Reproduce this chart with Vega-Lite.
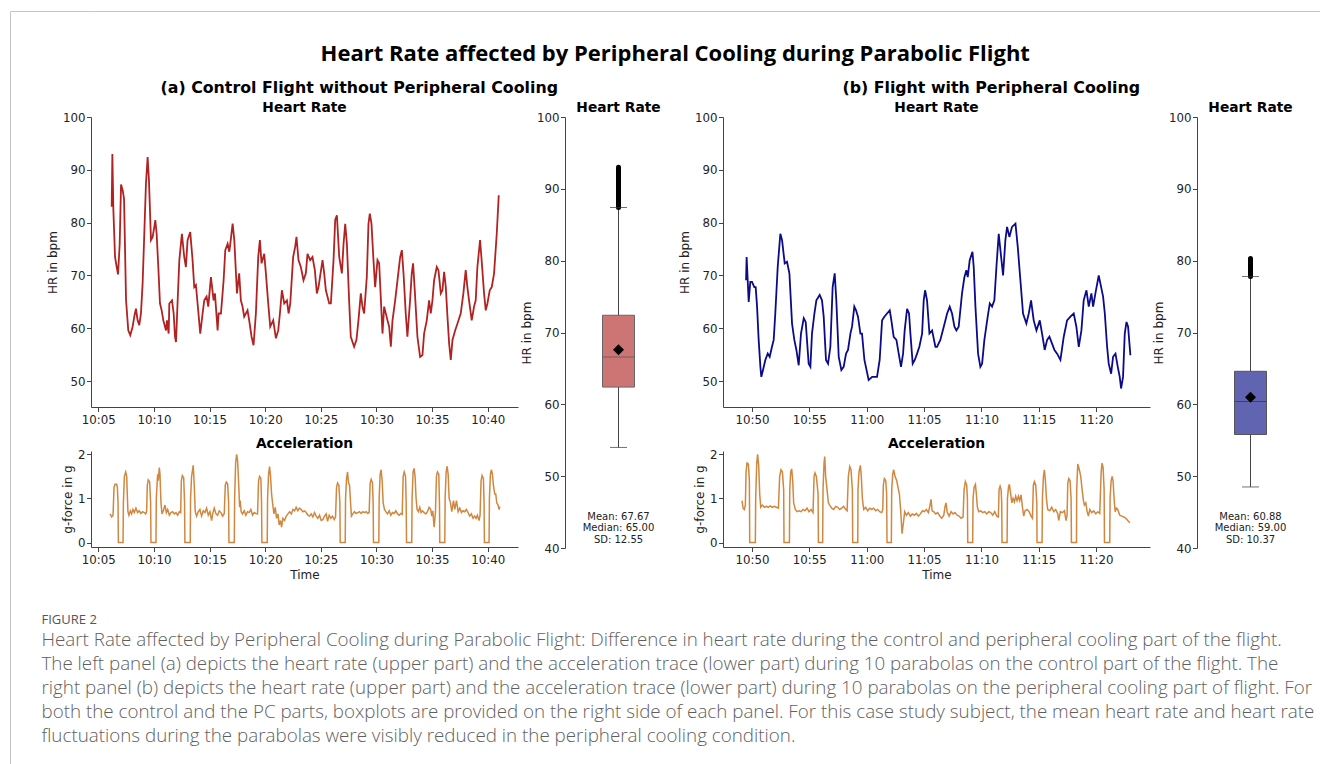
{
  "$schema": "https://vega.github.io/schema/vega-lite/v6.json",
  "background": "white",
  "padding": {"left": 10, "top": 11, "right": 0, "bottom": 0},
  "config": {
    "view": {"stroke": null},
    "font": "DejaVu Sans",
    "axis": {"labelFont": "DejaVu Sans", "labelFontSize": 11.8, "labelColor": "#222", "titleFont": "DejaVu Sans", "titleFontSize": 12, "titleFontWeight": "normal", "titleColor": "#222", "domainColor": "#444", "tickColor": "#444", "tickSize": 4.5, "labelPadding": 1.5, "titlePadding": 3, "grid": false, "labelFlush": false, "labelOverlap": false},
    "axisX": {"labelPadding": 2.5, "titlePadding": 4},
    "title": {"font": "DejaVu Sans", "fontWeight": "bold", "color": "#000"}
  },
  "datasets": {
    "hrA": [
      {"t":606.20,"v":83.0},{"t":606.26,"v":93.0},{"t":606.35,"v":82.5},{"t":606.50,"v":73.5},{"t":606.65,"v":71.6},{"t":606.77,"v":70.2},{"t":606.92,"v":76.0},{"t":607.04,"v":87.2},{"t":607.19,"v":86.1},{"t":607.31,"v":84.5},{"t":607.49,"v":65.3},{"t":607.69,"v":59.6},{"t":607.87,"v":58.7},{"t":608.08,"v":60.3},{"t":608.23,"v":62.2},{"t":608.38,"v":63.7},{"t":608.53,"v":61.5},{"t":608.68,"v":60.6},{"t":608.83,"v":62.8},{"t":608.98,"v":68.5},{"t":609.13,"v":77.9},{"t":609.28,"v":87.4},{"t":609.43,"v":92.4},{"t":609.55,"v":88.0},{"t":609.73,"v":76.7},{"t":609.88,"v":77.3},{"t":610.03,"v":79.2},{"t":610.12,"v":80.5},{"t":610.24,"v":77.9},{"t":610.39,"v":71.6},{"t":610.54,"v":64.7},{"t":610.69,"v":63.4},{"t":610.84,"v":61.5},{"t":611.08,"v":59.6},{"t":611.17,"v":61.5},{"t":611.32,"v":59.0},{"t":611.38,"v":64.7},{"t":611.62,"v":65.3},{"t":611.77,"v":62.8},{"t":611.89,"v":58.4},{"t":611.98,"v":57.4},{"t":612.13,"v":65.3},{"t":612.28,"v":72.9},{"t":612.51,"v":77.9},{"t":612.72,"v":73.5},{"t":612.87,"v":71.6},{"t":613.02,"v":76.7},{"t":613.26,"v":78.2},{"t":613.47,"v":72.9},{"t":613.62,"v":67.8},{"t":613.77,"v":68.2},{"t":613.92,"v":64.7},{"t":614.16,"v":59.0},{"t":614.37,"v":62.8},{"t":614.52,"v":65.3},{"t":614.73,"v":66.0},{"t":614.88,"v":64.1},{"t":615.12,"v":69.7},{"t":615.36,"v":65.3},{"t":615.48,"v":66.6},{"t":615.72,"v":59.6},{"t":615.81,"v":62.8},{"t":616.02,"v":62.8},{"t":616.26,"v":69.1},{"t":616.41,"v":74.8},{"t":616.62,"v":76.0},{"t":616.77,"v":74.5},{"t":616.86,"v":76.0},{"t":617.07,"v":79.8},{"t":617.22,"v":76.7},{"t":617.46,"v":66.6},{"t":617.66,"v":70.4},{"t":617.81,"v":65.3},{"t":617.96,"v":64.1},{"t":618.11,"v":62.2},{"t":618.41,"v":63.4},{"t":618.56,"v":61.5},{"t":618.77,"v":58.4},{"t":618.95,"v":56.8},{"t":619.16,"v":62.8},{"t":619.37,"v":73.5},{"t":619.52,"v":76.7},{"t":619.67,"v":72.3},{"t":619.91,"v":74.1},{"t":620.06,"v":70.4},{"t":620.27,"v":64.7},{"t":620.45,"v":60.3},{"t":620.72,"v":61.5},{"t":620.96,"v":58.1},{"t":621.17,"v":59.6},{"t":621.32,"v":62.8},{"t":621.50,"v":67.2},{"t":621.71,"v":64.7},{"t":621.95,"v":65.3},{"t":622.10,"v":62.8},{"t":622.25,"v":64.7},{"t":622.51,"v":73.5},{"t":622.69,"v":75.4},{"t":622.81,"v":77.3},{"t":622.99,"v":72.9},{"t":623.20,"v":71.6},{"t":623.44,"v":69.1},{"t":623.65,"v":70.4},{"t":623.80,"v":74.1},{"t":624.04,"v":72.9},{"t":624.25,"v":73.5},{"t":624.46,"v":71.0},{"t":624.64,"v":66.6},{"t":624.79,"v":67.8},{"t":625.15,"v":72.9},{"t":625.30,"v":70.4},{"t":625.45,"v":67.2},{"t":625.75,"v":64.7},{"t":625.90,"v":64.7},{"t":626.14,"v":72.9},{"t":626.29,"v":80.5},{"t":626.44,"v":81.4},{"t":626.65,"v":73.5},{"t":626.89,"v":70.4},{"t":627.04,"v":76.0},{"t":627.19,"v":79.8},{"t":627.34,"v":76.0},{"t":627.54,"v":65.3},{"t":627.69,"v":58.4},{"t":627.99,"v":56.5},{"t":628.20,"v":57.8},{"t":628.38,"v":61.5},{"t":628.59,"v":66.6},{"t":628.74,"v":64.1},{"t":628.89,"v":62.8},{"t":629.13,"v":69.7},{"t":629.28,"v":79.8},{"t":629.40,"v":81.7},{"t":629.55,"v":79.8},{"t":629.73,"v":72.9},{"t":629.88,"v":67.8},{"t":630.09,"v":72.9},{"t":630.24,"v":72.3},{"t":630.54,"v":59.0},{"t":630.69,"v":64.1},{"t":630.99,"v":61.5},{"t":631.14,"v":60.3},{"t":631.29,"v":56.5},{"t":631.44,"v":61.5},{"t":631.68,"v":65.3},{"t":631.89,"v":69.1},{"t":632.13,"v":73.5},{"t":632.28,"v":74.8},{"t":632.43,"v":70.4},{"t":632.63,"v":62.8},{"t":632.78,"v":58.4},{"t":633.02,"v":65.3},{"t":633.17,"v":70.4},{"t":633.29,"v":72.3},{"t":633.44,"v":67.2},{"t":633.68,"v":58.4},{"t":633.92,"v":54.6},{"t":634.13,"v":54.9},{"t":634.28,"v":59.0},{"t":634.52,"v":61.5},{"t":634.73,"v":65.3},{"t":634.88,"v":62.8},{"t":635.03,"v":65.3},{"t":635.18,"v":69.1},{"t":635.42,"v":71.6},{"t":635.57,"v":71.0},{"t":635.78,"v":66.6},{"t":635.93,"v":67.2},{"t":636.08,"v":70.7},{"t":636.23,"v":67.8},{"t":636.38,"v":62.2},{"t":636.53,"v":57.1},{"t":636.68,"v":54.0},{"t":636.83,"v":57.8},{"t":637.07,"v":59.6},{"t":637.28,"v":60.9},{"t":637.57,"v":62.8},{"t":637.81,"v":66.6},{"t":638.02,"v":71.0},{"t":638.17,"v":67.8},{"t":638.32,"v":65.3},{"t":638.56,"v":61.5},{"t":638.77,"v":64.1},{"t":638.92,"v":65.3},{"t":639.07,"v":71.6},{"t":639.31,"v":76.7},{"t":639.43,"v":73.5},{"t":639.67,"v":66.6},{"t":639.82,"v":63.4},{"t":639.97,"v":64.7},{"t":640.18,"v":67.2},{"t":640.36,"v":67.8},{"t":640.57,"v":70.4},{"t":640.81,"v":77.9},{"t":640.99,"v":85.2}
    ],
    "accA": [
      {"t":606.05,"v":0.65},{"t":606.20,"v":0.58},{"t":606.32,"v":0.62},{"t":606.41,"v":1.25},{"t":606.50,"v":1.32},{"t":606.65,"v":1.32},{"t":606.71,"v":1.25},{"t":606.77,"v":0.9},{"t":606.80,"v":0},{"t":607.22,"v":0},{"t":607.25,"v":0.9},{"t":607.34,"v":1.5},{"t":607.46,"v":1.6},{"t":607.55,"v":1.5},{"t":607.60,"v":1.1},{"t":607.66,"v":0.7},{"t":607.75,"v":0.62},{"t":607.87,"v":0.72},{"t":607.99,"v":0.65},{"t":608.11,"v":0.75},{"t":608.23,"v":0.68},{"t":608.38,"v":0.78},{"t":608.53,"v":0.68},{"t":608.68,"v":0.72},{"t":608.83,"v":0.66},{"t":608.98,"v":0.7},{"t":609.13,"v":0.68},{"t":609.25,"v":0.65},{"t":609.34,"v":0.7},{"t":609.40,"v":1.3},{"t":609.49,"v":1.42},{"t":609.61,"v":1.38},{"t":609.70,"v":0.9},{"t":609.73,"v":0},{"t":610.18,"v":0},{"t":610.21,"v":1.0},{"t":610.33,"v":1.55},{"t":610.39,"v":1.4},{"t":610.48,"v":1.7},{"t":610.54,"v":1.55},{"t":610.63,"v":0.9},{"t":610.72,"v":0.65},{"t":610.84,"v":0.72},{"t":610.99,"v":0.85},{"t":611.11,"v":0.68},{"t":611.23,"v":0.75},{"t":611.38,"v":0.62},{"t":611.53,"v":0.68},{"t":611.68,"v":0.7},{"t":611.83,"v":0.65},{"t":611.98,"v":0.68},{"t":612.13,"v":0.62},{"t":612.28,"v":0.7},{"t":612.40,"v":0.68},{"t":612.46,"v":1.4},{"t":612.55,"v":1.52},{"t":612.67,"v":1.47},{"t":612.75,"v":0.9},{"t":612.78,"v":0},{"t":613.26,"v":0},{"t":613.29,"v":1.0},{"t":613.38,"v":1.5},{"t":613.47,"v":1.65},{"t":613.53,"v":1.75},{"t":613.62,"v":1.3},{"t":613.71,"v":0.7},{"t":613.83,"v":0.6},{"t":613.98,"v":0.7},{"t":614.13,"v":0.75},{"t":614.28,"v":0.6},{"t":614.43,"v":0.72},{"t":614.58,"v":0.68},{"t":614.73,"v":0.78},{"t":614.88,"v":0.62},{"t":615.03,"v":0.7},{"t":615.18,"v":0.5},{"t":615.30,"v":0.68},{"t":615.42,"v":0.78},{"t":615.57,"v":0.65},{"t":615.72,"v":0.62},{"t":615.87,"v":0.72},{"t":616.02,"v":0.68},{"t":616.17,"v":0.6},{"t":616.32,"v":0.66},{"t":616.41,"v":1.3},{"t":616.50,"v":1.37},{"t":616.62,"v":1.33},{"t":616.71,"v":0.9},{"t":616.74,"v":0},{"t":617.22,"v":0},{"t":617.25,"v":1.0},{"t":617.34,"v":1.8},{"t":617.43,"v":2.0},{"t":617.52,"v":1.85},{"t":617.61,"v":1.35},{"t":617.70,"v":0.8},{"t":617.75,"v":0.95},{"t":617.84,"v":0.7},{"t":617.96,"v":0.65},{"t":618.11,"v":0.72},{"t":618.26,"v":0.62},{"t":618.41,"v":0.7},{"t":618.56,"v":0.68},{"t":618.71,"v":0.75},{"t":618.86,"v":0.62},{"t":619.01,"v":0.68},{"t":619.16,"v":0.66},{"t":619.31,"v":0.65},{"t":619.40,"v":1.4},{"t":619.49,"v":1.5},{"t":619.61,"v":1.45},{"t":619.67,"v":0.9},{"t":619.70,"v":0},{"t":620.18,"v":0},{"t":620.21,"v":1.0},{"t":620.30,"v":1.55},{"t":620.39,"v":1.72},{"t":620.48,"v":1.5},{"t":620.57,"v":1.1},{"t":620.66,"v":0.9},{"t":620.78,"v":0.65},{"t":620.90,"v":0.8},{"t":621.02,"v":0.55},{"t":621.14,"v":0.65},{"t":621.26,"v":0.4},{"t":621.38,"v":0.5},{"t":621.47,"v":0.35},{"t":621.59,"v":0.55},{"t":621.74,"v":0.5},{"t":621.89,"v":0.6},{"t":622.04,"v":0.65},{"t":622.19,"v":0.7},{"t":622.34,"v":0.65},{"t":622.49,"v":0.75},{"t":622.64,"v":0.72},{"t":622.78,"v":0.8},{"t":622.93,"v":0.72},{"t":623.08,"v":0.78},{"t":623.23,"v":0.75},{"t":623.38,"v":0.7},{"t":623.53,"v":0.72},{"t":623.68,"v":0.68},{"t":623.83,"v":0.62},{"t":623.98,"v":0.6},{"t":624.13,"v":0.65},{"t":624.28,"v":0.58},{"t":624.43,"v":0.68},{"t":624.58,"v":0.6},{"t":624.73,"v":0.55},{"t":624.88,"v":0.62},{"t":625.03,"v":0.5},{"t":625.18,"v":0.52},{"t":625.33,"v":0.6},{"t":625.48,"v":0.65},{"t":625.60,"v":0.48},{"t":625.75,"v":0.62},{"t":625.90,"v":0.55},{"t":626.05,"v":0.6},{"t":626.20,"v":0.52},{"t":626.32,"v":0.58},{"t":626.41,"v":1.25},{"t":626.50,"v":1.35},{"t":626.62,"v":1.3},{"t":626.71,"v":0.9},{"t":626.74,"v":0},{"t":627.19,"v":0},{"t":627.22,"v":1.0},{"t":627.31,"v":1.45},{"t":627.40,"v":1.6},{"t":627.49,"v":1.35},{"t":627.58,"v":1.3},{"t":627.67,"v":0.9},{"t":627.75,"v":0.6},{"t":627.87,"v":0.65},{"t":628.02,"v":0.7},{"t":628.17,"v":0.66},{"t":628.32,"v":0.68},{"t":628.47,"v":0.7},{"t":628.62,"v":0.66},{"t":628.77,"v":0.7},{"t":628.92,"v":0.68},{"t":629.07,"v":0.7},{"t":629.22,"v":0.66},{"t":629.34,"v":0.68},{"t":629.43,"v":1.35},{"t":629.52,"v":1.43},{"t":629.64,"v":1.35},{"t":629.70,"v":0.9},{"t":629.73,"v":0},{"t":630.21,"v":0},{"t":630.24,"v":1.0},{"t":630.33,"v":1.55},{"t":630.42,"v":1.65},{"t":630.51,"v":1.4},{"t":630.60,"v":0.9},{"t":630.72,"v":0.75},{"t":630.84,"v":0.7},{"t":630.99,"v":0.65},{"t":631.14,"v":0.72},{"t":631.29,"v":0.62},{"t":631.44,"v":0.68},{"t":631.59,"v":0.66},{"t":631.74,"v":0.72},{"t":631.89,"v":0.65},{"t":632.04,"v":0.62},{"t":632.19,"v":0.66},{"t":632.31,"v":0.64},{"t":632.40,"v":1.5},{"t":632.49,"v":1.6},{"t":632.61,"v":1.5},{"t":632.67,"v":0.9},{"t":632.70,"v":0},{"t":633.17,"v":0},{"t":633.20,"v":1.0},{"t":633.29,"v":1.6},{"t":633.38,"v":1.68},{"t":633.47,"v":1.5},{"t":633.56,"v":1.0},{"t":633.65,"v":0.75},{"t":633.77,"v":0.7},{"t":633.89,"v":0.8},{"t":634.01,"v":0.68},{"t":634.13,"v":0.72},{"t":634.28,"v":0.68},{"t":634.43,"v":0.65},{"t":634.58,"v":0.7},{"t":634.73,"v":0.8},{"t":634.88,"v":0.75},{"t":634.97,"v":0.6},{"t":635.06,"v":0.72},{"t":635.18,"v":0.35},{"t":635.30,"v":0.68},{"t":635.39,"v":1.5},{"t":635.48,"v":1.6},{"t":635.60,"v":1.55},{"t":635.66,"v":0.9},{"t":635.69,"v":0},{"t":636.14,"v":0},{"t":636.17,"v":1.0},{"t":636.26,"v":1.6},{"t":636.35,"v":1.73},{"t":636.44,"v":1.55},{"t":636.53,"v":1.0},{"t":636.65,"v":0.9},{"t":636.77,"v":0.7},{"t":636.92,"v":0.95},{"t":637.04,"v":0.75},{"t":637.19,"v":0.95},{"t":637.34,"v":0.7},{"t":637.49,"v":0.78},{"t":637.64,"v":0.68},{"t":637.78,"v":0.72},{"t":637.93,"v":0.7},{"t":638.08,"v":0.75},{"t":638.23,"v":0.68},{"t":638.38,"v":0.6},{"t":638.53,"v":0.65},{"t":638.68,"v":0.55},{"t":638.83,"v":0.6},{"t":638.95,"v":0.55},{"t":639.07,"v":0.62},{"t":639.22,"v":0.5},{"t":639.31,"v":0.62},{"t":639.40,"v":1.4},{"t":639.49,"v":1.52},{"t":639.61,"v":1.45},{"t":639.67,"v":0.9},{"t":639.70,"v":0},{"t":640.12,"v":0},{"t":640.15,"v":1.0},{"t":640.24,"v":1.55},{"t":640.33,"v":1.65},{"t":640.42,"v":1.55},{"t":640.51,"v":1.3},{"t":640.63,"v":1.1},{"t":640.72,"v":1.1},{"t":640.81,"v":0.9},{"t":640.93,"v":0.85},{"t":641.02,"v":0.75},{"t":641.08,"v":0.82}
    ],
    "hrB": [
      {"t":649.48,"v":69.1},{"t":649.53,"v":73.5},{"t":649.71,"v":65.0},{"t":649.85,"v":68.8},{"t":650.00,"v":68.8},{"t":650.20,"v":67.8},{"t":650.32,"v":67.8},{"t":650.44,"v":64.1},{"t":650.58,"v":57.8},{"t":650.73,"v":52.7},{"t":650.81,"v":50.8},{"t":650.96,"v":52.1},{"t":651.16,"v":54.0},{"t":651.37,"v":55.2},{"t":651.54,"v":54.6},{"t":651.74,"v":56.5},{"t":651.89,"v":57.8},{"t":652.03,"v":62.8},{"t":652.24,"v":71.6},{"t":652.47,"v":77.9},{"t":652.62,"v":76.7},{"t":652.85,"v":72.3},{"t":653.05,"v":72.6},{"t":653.26,"v":70.4},{"t":653.49,"v":60.9},{"t":653.69,"v":57.8},{"t":653.87,"v":55.9},{"t":654.07,"v":53.0},{"t":654.27,"v":59.0},{"t":654.51,"v":61.9},{"t":654.68,"v":61.2},{"t":654.94,"v":53.3},{"t":655.09,"v":52.7},{"t":655.23,"v":59.0},{"t":655.44,"v":62.8},{"t":655.61,"v":65.3},{"t":655.90,"v":66.3},{"t":656.10,"v":65.3},{"t":656.25,"v":62.2},{"t":656.45,"v":54.0},{"t":656.63,"v":53.3},{"t":656.83,"v":56.5},{"t":657.03,"v":67.8},{"t":657.21,"v":70.4},{"t":657.35,"v":65.3},{"t":657.56,"v":54.6},{"t":657.79,"v":52.1},{"t":657.99,"v":52.7},{"t":658.20,"v":55.2},{"t":658.37,"v":55.9},{"t":658.58,"v":59.0},{"t":658.72,"v":60.3},{"t":658.92,"v":64.1},{"t":659.07,"v":63.4},{"t":659.24,"v":62.2},{"t":659.45,"v":59.0},{"t":659.59,"v":59.0},{"t":659.80,"v":54.0},{"t":660.17,"v":50.2},{"t":660.47,"v":50.8},{"t":660.90,"v":50.8},{"t":661.13,"v":54.0},{"t":661.34,"v":61.5},{"t":661.54,"v":62.2},{"t":661.77,"v":62.8},{"t":662.01,"v":63.4},{"t":662.15,"v":61.5},{"t":662.35,"v":58.4},{"t":662.59,"v":57.8},{"t":662.79,"v":55.2},{"t":662.99,"v":52.7},{"t":663.17,"v":55.2},{"t":663.31,"v":59.6},{"t":663.52,"v":63.7},{"t":663.69,"v":62.8},{"t":663.81,"v":59.0},{"t":664.01,"v":53.3},{"t":664.19,"v":54.0},{"t":664.39,"v":55.2},{"t":664.59,"v":56.5},{"t":664.83,"v":59.0},{"t":664.97,"v":65.3},{"t":665.09,"v":67.2},{"t":665.26,"v":65.3},{"t":665.47,"v":59.0},{"t":665.70,"v":59.6},{"t":665.99,"v":56.5},{"t":666.13,"v":56.5},{"t":666.42,"v":57.8},{"t":666.72,"v":60.3},{"t":667.01,"v":62.8},{"t":667.24,"v":64.1},{"t":667.44,"v":62.8},{"t":667.65,"v":60.3},{"t":667.82,"v":59.6},{"t":668.02,"v":60.3},{"t":668.31,"v":66.6},{"t":668.52,"v":69.7},{"t":668.69,"v":71.0},{"t":668.81,"v":69.7},{"t":668.98,"v":72.9},{"t":669.22,"v":74.5},{"t":669.33,"v":71.6},{"t":669.48,"v":64.1},{"t":669.71,"v":55.2},{"t":669.91,"v":52.7},{"t":670.06,"v":53.3},{"t":670.26,"v":57.8},{"t":670.55,"v":62.2},{"t":670.73,"v":64.7},{"t":670.93,"v":64.1},{"t":671.13,"v":65.3},{"t":671.31,"v":71.6},{"t":671.51,"v":77.9},{"t":671.72,"v":73.5},{"t":671.89,"v":70.0},{"t":672.09,"v":76.7},{"t":672.24,"v":79.2},{"t":672.44,"v":77.3},{"t":672.67,"v":79.2},{"t":672.97,"v":79.8},{"t":673.17,"v":75.4},{"t":673.40,"v":69.1},{"t":673.63,"v":62.8},{"t":673.92,"v":60.9},{"t":674.13,"v":62.8},{"t":674.33,"v":65.3},{"t":674.56,"v":61.5},{"t":674.80,"v":59.6},{"t":675.09,"v":61.5},{"t":675.29,"v":59.0},{"t":675.52,"v":55.9},{"t":675.73,"v":57.8},{"t":675.93,"v":58.4},{"t":676.16,"v":57.1},{"t":676.37,"v":55.9},{"t":676.60,"v":55.2},{"t":676.89,"v":54.0},{"t":677.18,"v":58.4},{"t":677.47,"v":61.5},{"t":677.76,"v":62.2},{"t":678.05,"v":62.8},{"t":678.28,"v":60.3},{"t":678.49,"v":56.5},{"t":678.72,"v":59.6},{"t":678.92,"v":65.3},{"t":679.16,"v":67.2},{"t":679.36,"v":64.1},{"t":679.59,"v":66.6},{"t":679.74,"v":64.1},{"t":679.94,"v":66.6},{"t":680.23,"v":70.0},{"t":680.44,"v":67.8},{"t":680.61,"v":66.0},{"t":680.76,"v":62.8},{"t":680.96,"v":56.5},{"t":681.10,"v":53.3},{"t":681.31,"v":51.4},{"t":681.48,"v":54.6},{"t":681.69,"v":55.2},{"t":681.89,"v":52.7},{"t":682.06,"v":50.8},{"t":682.18,"v":48.6},{"t":682.35,"v":50.8},{"t":682.50,"v":59.0},{"t":682.65,"v":61.2},{"t":682.79,"v":60.3},{"t":682.99,"v":54.9}
    ],
    "accB": [
      {"t":649.13,"v":0.95},{"t":649.22,"v":0.78},{"t":649.33,"v":0.75},{"t":649.42,"v":0.85},{"t":649.48,"v":1.6},{"t":649.56,"v":1.8},{"t":649.68,"v":1.78},{"t":649.77,"v":1.4},{"t":649.80,"v":0},{"t":650.29,"v":0},{"t":650.32,"v":1.0},{"t":650.41,"v":1.8},{"t":650.49,"v":2.0},{"t":650.58,"v":1.75},{"t":650.67,"v":1.1},{"t":650.76,"v":0.8},{"t":650.90,"v":0.85},{"t":651.08,"v":0.8},{"t":651.25,"v":0.82},{"t":651.42,"v":0.8},{"t":651.60,"v":0.83},{"t":651.77,"v":0.8},{"t":651.95,"v":0.82},{"t":652.12,"v":0.8},{"t":652.30,"v":0.78},{"t":652.41,"v":1.5},{"t":652.53,"v":1.65},{"t":652.65,"v":1.6},{"t":652.76,"v":1.2},{"t":652.79,"v":0},{"t":653.26,"v":0},{"t":653.29,"v":1.2},{"t":653.37,"v":1.6},{"t":653.46,"v":1.67},{"t":653.55,"v":1.4},{"t":653.63,"v":0.9},{"t":653.78,"v":0.75},{"t":653.92,"v":0.7},{"t":654.10,"v":0.72},{"t":654.27,"v":0.7},{"t":654.45,"v":0.75},{"t":654.62,"v":0.72},{"t":654.80,"v":0.78},{"t":654.97,"v":0.7},{"t":655.15,"v":0.75},{"t":655.32,"v":0.68},{"t":655.41,"v":1.5},{"t":655.49,"v":1.58},{"t":655.61,"v":1.5},{"t":655.76,"v":1.1},{"t":655.79,"v":0},{"t":656.16,"v":0},{"t":656.19,"v":1.2},{"t":656.28,"v":1.8},{"t":656.34,"v":1.95},{"t":656.42,"v":1.5},{"t":656.54,"v":1.2},{"t":656.66,"v":0.9},{"t":656.77,"v":0.85},{"t":656.95,"v":0.78},{"t":657.12,"v":0.75},{"t":657.30,"v":0.82},{"t":657.47,"v":0.8},{"t":657.65,"v":0.75},{"t":657.82,"v":0.78},{"t":657.99,"v":0.82},{"t":658.17,"v":0.75},{"t":658.29,"v":0.72},{"t":658.40,"v":1.5},{"t":658.52,"v":1.72},{"t":658.63,"v":1.65},{"t":658.75,"v":1.2},{"t":658.78,"v":0},{"t":659.22,"v":0},{"t":659.24,"v":1.2},{"t":659.33,"v":1.6},{"t":659.45,"v":1.75},{"t":659.53,"v":1.5},{"t":659.62,"v":1.0},{"t":659.74,"v":0.75},{"t":659.91,"v":0.8},{"t":660.09,"v":0.72},{"t":660.26,"v":0.78},{"t":660.44,"v":0.75},{"t":660.61,"v":0.78},{"t":660.78,"v":0.72},{"t":660.96,"v":0.75},{"t":661.13,"v":0.7},{"t":661.31,"v":0.68},{"t":661.40,"v":0.75},{"t":661.45,"v":1.3},{"t":661.54,"v":1.45},{"t":661.66,"v":1.4},{"t":661.74,"v":1.1},{"t":661.77,"v":0},{"t":662.15,"v":0},{"t":662.18,"v":1.2},{"t":662.27,"v":1.55},{"t":662.35,"v":1.65},{"t":662.47,"v":1.5},{"t":662.62,"v":1.4},{"t":662.73,"v":1.25},{"t":662.85,"v":1.1},{"t":662.97,"v":0.7},{"t":663.08,"v":0.2},{"t":663.20,"v":0.45},{"t":663.31,"v":0.7},{"t":663.46,"v":0.62},{"t":663.63,"v":0.68},{"t":663.81,"v":0.6},{"t":663.98,"v":0.65},{"t":664.16,"v":0.62},{"t":664.33,"v":0.66},{"t":664.51,"v":0.6},{"t":664.68,"v":0.65},{"t":664.86,"v":0.72},{"t":665.03,"v":0.7},{"t":665.20,"v":0.75},{"t":665.38,"v":0.68},{"t":665.52,"v":0.85},{"t":665.61,"v":0.98},{"t":665.70,"v":0.72},{"t":665.84,"v":0.7},{"t":666.02,"v":0.65},{"t":666.19,"v":0.68},{"t":666.37,"v":0.6},{"t":666.54,"v":0.55},{"t":666.72,"v":0.62},{"t":666.83,"v":0.82},{"t":666.92,"v":0.9},{"t":667.01,"v":0.7},{"t":667.18,"v":0.6},{"t":667.36,"v":0.7},{"t":667.53,"v":0.65},{"t":667.70,"v":0.68},{"t":667.88,"v":0.62},{"t":668.05,"v":0.6},{"t":668.23,"v":0.55},{"t":668.40,"v":0.58},{"t":668.49,"v":1.2},{"t":668.60,"v":1.38},{"t":668.72,"v":1.3},{"t":668.78,"v":1.0},{"t":668.81,"v":0},{"t":669.24,"v":0},{"t":669.27,"v":1.0},{"t":669.36,"v":1.25},{"t":669.48,"v":1.32},{"t":669.56,"v":1.1},{"t":669.65,"v":0.8},{"t":669.77,"v":0.7},{"t":669.94,"v":0.72},{"t":670.12,"v":0.68},{"t":670.29,"v":0.7},{"t":670.47,"v":0.65},{"t":670.64,"v":0.7},{"t":670.81,"v":0.68},{"t":670.99,"v":0.62},{"t":671.16,"v":0.7},{"t":671.34,"v":0.6},{"t":671.48,"v":0.58},{"t":671.54,"v":1.2},{"t":671.63,"v":1.28},{"t":671.72,"v":1.2},{"t":671.77,"v":0.9},{"t":671.80,"v":0},{"t":672.24,"v":0},{"t":672.27,"v":1.0},{"t":672.36,"v":1.25},{"t":672.44,"v":1.32},{"t":672.53,"v":1.15},{"t":672.65,"v":0.9},{"t":672.76,"v":1.0},{"t":672.88,"v":0.92},{"t":672.99,"v":1.05},{"t":673.11,"v":0.95},{"t":673.23,"v":1.05},{"t":673.34,"v":0.95},{"t":673.46,"v":1.08},{"t":673.58,"v":0.8},{"t":673.69,"v":0.6},{"t":673.81,"v":0.72},{"t":673.98,"v":0.75},{"t":674.16,"v":0.7},{"t":674.33,"v":0.6},{"t":674.45,"v":0.55},{"t":674.53,"v":1.3},{"t":674.62,"v":1.38},{"t":674.74,"v":1.3},{"t":674.83,"v":0.9},{"t":674.85,"v":0},{"t":675.29,"v":0},{"t":675.32,"v":1.0},{"t":675.41,"v":1.5},{"t":675.49,"v":1.65},{"t":675.58,"v":1.4},{"t":675.67,"v":1.0},{"t":675.78,"v":0.75},{"t":675.96,"v":0.72},{"t":676.13,"v":0.8},{"t":676.31,"v":0.7},{"t":676.48,"v":0.75},{"t":676.66,"v":0.65},{"t":676.74,"v":0.5},{"t":676.89,"v":0.7},{"t":677.06,"v":0.68},{"t":677.24,"v":0.72},{"t":677.38,"v":0.5},{"t":677.47,"v":0.62},{"t":677.53,"v":1.35},{"t":677.62,"v":1.45},{"t":677.73,"v":1.4},{"t":677.82,"v":1.0},{"t":677.85,"v":0},{"t":678.29,"v":0},{"t":678.31,"v":1.2},{"t":678.40,"v":1.78},{"t":678.49,"v":1.7},{"t":678.58,"v":1.6},{"t":678.66,"v":1.5},{"t":678.78,"v":1.2},{"t":678.90,"v":0.95},{"t":678.98,"v":0.85},{"t":679.10,"v":0.9},{"t":679.22,"v":0.7},{"t":679.33,"v":0.6},{"t":679.45,"v":0.75},{"t":679.62,"v":0.68},{"t":679.80,"v":0.72},{"t":679.97,"v":0.65},{"t":680.15,"v":0.7},{"t":680.32,"v":0.66},{"t":680.44,"v":1.6},{"t":680.52,"v":1.8},{"t":680.61,"v":1.7},{"t":680.70,"v":1.2},{"t":680.73,"v":0},{"t":681.19,"v":0},{"t":681.22,"v":1.0},{"t":681.31,"v":1.4},{"t":681.40,"v":1.5},{"t":681.48,"v":1.4},{"t":681.57,"v":1.0},{"t":681.66,"v":0.7},{"t":681.77,"v":0.78},{"t":681.89,"v":0.75},{"t":682.06,"v":0.62},{"t":682.24,"v":0.6},{"t":682.41,"v":0.58},{"t":682.59,"v":0.55},{"t":682.76,"v":0.5},{"t":682.94,"v":0.45}
    ],
    "boxA": [{"cat": "HR", "lo": 54.0, "q1": 62.4, "med": 66.6, "q3": 72.4, "hi": 87.4, "omax": 93.0, "mean": 67.6, "stats": "Mean: 67.67\nMedian: 65.00\nSD: 12.55"}],
    "boxB": [{"cat": "HR", "lo": 48.5, "q1": 55.8, "med": 60.4, "q3": 64.6, "hi": 77.8, "omax": 80.3, "mean": 61.0, "stats": "Mean: 60.88\nMedian: 59.00\nSD: 10.37"}]
  },
  "spacing": -52,
  "hconcat": [
    {
      "width": 81, "height": 753,
      "data": {"values": []},
      "mark": "point",
      "encoding": {
        "x": {"field": "a", "type": "quantitative", "scale": {"domain": [0, 1]}, "axis": {"orient": "top", "labels": false, "ticks": false, "title": null, "grid": false, "domainColor": "#c4c4c4"}},
        "y": {"field": "b", "type": "quantitative", "scale": {"domain": [0, 1]}, "axis": {"labels": false, "ticks": false, "title": null, "grid": false, "domainColor": "#c4c4c4"}}
      }
    },
    {
      "title": {
        "text": "FIGURE 2",
        "subtitle": [
          "Heart Rate affected by Peripheral Cooling during Parabolic Flight: Difference in heart rate during the control and peripheral cooling part of the flight.",
          "The left panel (a) depicts the heart rate (upper part) and the acceleration trace (lower part) during 10 parabolas on the control part of the flight. The",
          "right panel (b) depicts the heart rate (upper part) and the acceleration trace (lower part) during 10 parabolas on the peripheral cooling part of flight. For",
          "both the control and the PC parts, boxplots are provided on the right side of each panel. For this case study subject, the mean heart rate and heart rate",
          "fluctuations during the parabolas were visibly reduced in the peripheral cooling condition."
        ],
        "orient": "bottom",
        "anchor": "start",
        "frame": "bounds",
        "font": "Open Sans",
        "fontSize": 13,
        "fontWeight": 500,
        "color": "#555555",
        "subtitleFont": "Open Sans",
        "subtitleFontSize": 18.8,
        "subtitleFontWeight": 300,
        "subtitleColor": "#5f5f5f",
        "subtitleLineHeight": 24,
        "subtitlePadding": 4,
        "offset": 33,
        "dx": -5
      },
      "spacing": 12,
      "vconcat": [
        {
          "width": 1232, "height": 0,
          "data": {"values": []},
          "mark": "point",
          "encoding": {
            "x": {"field": "a", "type": "quantitative", "scale": {"domain": [0, 1]}, "axis": {"orient": "top", "labels": false, "ticks": false, "title": null, "grid": false, "domainColor": "#c4c4c4"}}
          }
        },
        {
          "title": {"text": "Heart Rate affected by Peripheral Cooling during Parabolic Flight", "font": "Open Sans", "fontSize": 22, "fontWeight": 700, "anchor": "middle", "offset": 14},
          "spacing": 6,
          "hconcat": [
            {
              "title": {"text": "(a) Control Flight without Peripheral Cooling", "fontSize": 15.8, "anchor": "middle", "offset": 4},
              "spacing": 2,
              "hconcat": [
                {
                  "spacing": 10,
                  "vconcat": [
                    {
                      "title": {"text": "Heart Rate", "fontSize": 13.8, "frame": "group", "anchor": "middle", "offset": -3},
                      "width": 427, "height": 290,
                      "data": {"name": "hrA"},
                      "mark": {"type": "line", "color": "#b22222", "strokeWidth": 1.8},
                      "encoding": {
                        "x": {"field": "t", "type": "quantitative", "scale": {"domain": [604.34, 642.72], "nice": false, "zero": false}, "axis": {"title": null, "values": [605, 610, 615, 620, 625, 630, 635, 640], "labelExpr": "floor(datum.value / 60) + ':' + (datum.value % 60 < 10 ? '0' : '') + (datum.value % 60)"}},
                        "y": {"field": "v", "type": "quantitative", "scale": {"domain": [45.1, 100], "nice": false, "zero": false}, "axis": {"title": "HR in bpm", "values": [50, 60, 70, 80, 90, 100]}}
                      }
                    },
                    {
                      "title": {"text": "Acceleration", "fontSize": 13.8, "frame": "group", "anchor": "middle", "offset": -1},
                      "width": 427, "height": 96,
                      "data": {"name": "accA"},
                      "mark": {"type": "line", "color": "#d08840", "strokeWidth": 1.5},
                      "encoding": {
                        "x": {"field": "t", "type": "quantitative", "scale": {"domain": [604.34, 642.72], "nice": false, "zero": false}, "axis": {"title": "Time", "values": [605, 610, 615, 620, 625, 630, 635, 640], "labelExpr": "floor(datum.value / 60) + ':' + (datum.value % 60 < 10 ? '0' : '') + (datum.value % 60)"}},
                        "y": {"field": "v", "type": "quantitative", "scale": {"domain": [-0.1, 2.075], "nice": false, "zero": false}, "axis": {"title": "g-force in g", "values": [0, 1, 2]}}
                      }
                    }
                  ]
                },
                {
                  "title": {"text": "Heart Rate", "fontSize": 13.8, "frame": "group", "anchor": "middle", "offset": -3},
                  "width": 107, "height": 431,
                  "data": {"name": "boxA"},
                  "encoding": {"x": {"field": "cat", "type": "nominal", "axis": null}},
                  "layer": [
                    {"mark": {"type": "rule", "color": "#444"}, "encoding": {"y": {"field": "lo", "type": "quantitative", "scale": {"domain": [40, 100], "nice": false, "zero": false}, "axis": {"title": "HR in bpm", "values": [40, 50, 60, 70, 80, 90, 100]}}, "y2": {"field": "hi"}}},
                    {"mark": {"type": "rule", "color": "#000", "strokeWidth": 5, "strokeCap": "round"}, "encoding": {"y": {"field": "hi", "type": "quantitative"}, "y2": {"field": "omax"}}},
                    {"mark": {"type": "bar", "size": 32, "fill": "#cd7474", "stroke": "#666", "strokeWidth": 1}, "encoding": {"y": {"field": "q1", "type": "quantitative"}, "y2": {"field": "q3"}}},
                    {"mark": {"type": "tick", "orient": "horizontal", "size": 32, "thickness": 1, "color": "#555"}, "encoding": {"y": {"field": "med", "type": "quantitative"}}},
                    {"mark": {"type": "tick", "orient": "horizontal", "size": 17, "thickness": 1, "color": "#333"}, "encoding": {"y": {"field": "lo", "type": "quantitative"}}},
                    {"mark": {"type": "tick", "orient": "horizontal", "size": 17, "thickness": 1, "color": "#333"}, "encoding": {"y": {"field": "hi", "type": "quantitative"}}},
                    {"mark": {"type": "point", "shape": "diamond", "filled": true, "color": "#000", "size": 120, "opacity": 1}, "encoding": {"y": {"field": "mean", "type": "quantitative"}}},
                    {"mark": {"type": "text", "font": "DejaVu Sans", "fontSize": 10, "lineBreak": "\n", "lineHeight": 11.3, "baseline": "middle", "align": "center", "color": "#222"}, "encoding": {"y": {"datum": 44.3}, "text": {"field": "stats"}}}
                  ]
                }
              ]
            },
            {
              "title": {"text": "(b) Flight with Peripheral Cooling", "fontSize": 15.8, "anchor": "middle", "offset": 4},
              "spacing": 2,
              "hconcat": [
                {
                  "spacing": 10,
                  "vconcat": [
                    {
                      "title": {"text": "Heart Rate", "fontSize": 13.8, "frame": "group", "anchor": "middle", "offset": -3},
                      "width": 427, "height": 290,
                      "data": {"name": "hrB"},
                      "mark": {"type": "line", "color": "#0b0b8a", "strokeWidth": 1.8},
                      "encoding": {
                        "x": {"field": "t", "type": "quantitative", "scale": {"domain": [647.47, 684.70], "nice": false, "zero": false}, "axis": {"title": null, "values": [650, 655, 660, 665, 670, 675, 680], "labelExpr": "floor(datum.value / 60) + ':' + (datum.value % 60 < 10 ? '0' : '') + (datum.value % 60)"}},
                        "y": {"field": "v", "type": "quantitative", "scale": {"domain": [45.1, 100], "nice": false, "zero": false}, "axis": {"title": "HR in bpm", "values": [50, 60, 70, 80, 90, 100]}}
                      }
                    },
                    {
                      "title": {"text": "Acceleration", "fontSize": 13.8, "frame": "group", "anchor": "middle", "offset": -1},
                      "width": 427, "height": 96,
                      "data": {"name": "accB"},
                      "mark": {"type": "line", "color": "#d08840", "strokeWidth": 1.5},
                      "encoding": {
                        "x": {"field": "t", "type": "quantitative", "scale": {"domain": [647.47, 684.70], "nice": false, "zero": false}, "axis": {"title": "Time", "values": [650, 655, 660, 665, 670, 675, 680], "labelExpr": "floor(datum.value / 60) + ':' + (datum.value % 60 < 10 ? '0' : '') + (datum.value % 60)"}},
                        "y": {"field": "v", "type": "quantitative", "scale": {"domain": [-0.1, 2.075], "nice": false, "zero": false}, "axis": {"title": "g-force in g", "values": [0, 1, 2]}}
                      }
                    }
                  ]
                },
                {
                  "title": {"text": "Heart Rate", "fontSize": 13.8, "frame": "group", "anchor": "middle", "offset": -3},
                  "width": 107, "height": 431,
                  "data": {"name": "boxB"},
                  "encoding": {"x": {"field": "cat", "type": "nominal", "axis": null}},
                  "layer": [
                    {"mark": {"type": "rule", "color": "#444"}, "encoding": {"y": {"field": "lo", "type": "quantitative", "scale": {"domain": [40, 100], "nice": false, "zero": false}, "axis": {"title": "HR in bpm", "values": [40, 50, 60, 70, 80, 90, 100]}}, "y2": {"field": "hi"}}},
                    {"mark": {"type": "rule", "color": "#000", "strokeWidth": 5, "strokeCap": "round"}, "encoding": {"y": {"field": "hi", "type": "quantitative"}, "y2": {"field": "omax"}}},
                    {"mark": {"type": "bar", "size": 32, "fill": "#6164b0", "stroke": "#555", "strokeWidth": 1}, "encoding": {"y": {"field": "q1", "type": "quantitative"}, "y2": {"field": "q3"}}},
                    {"mark": {"type": "tick", "orient": "horizontal", "size": 32, "thickness": 1, "color": "#333"}, "encoding": {"y": {"field": "med", "type": "quantitative"}}},
                    {"mark": {"type": "tick", "orient": "horizontal", "size": 17, "thickness": 1, "color": "#333"}, "encoding": {"y": {"field": "lo", "type": "quantitative"}}},
                    {"mark": {"type": "tick", "orient": "horizontal", "size": 17, "thickness": 1, "color": "#333"}, "encoding": {"y": {"field": "hi", "type": "quantitative"}}},
                    {"mark": {"type": "point", "shape": "diamond", "filled": true, "color": "#000", "size": 120, "opacity": 1}, "encoding": {"y": {"field": "mean", "type": "quantitative"}}},
                    {"mark": {"type": "text", "font": "DejaVu Sans", "fontSize": 10, "lineBreak": "\n", "lineHeight": 11.3, "baseline": "middle", "align": "center", "color": "#222"}, "encoding": {"y": {"datum": 44.3}, "text": {"field": "stats"}}}
                  ]
                }
              ]
            }
          ]
        }
      ]
    }
  ]
}
